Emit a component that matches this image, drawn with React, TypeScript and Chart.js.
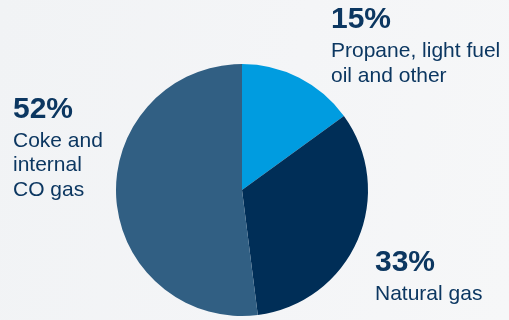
import React, { useEffect, useRef } from "react";
import { Chart, registerables } from "chart.js";

Chart.register(...registerables);

const categories = ["Propane, light fuel oil and other", "Natural gas", "Coke and internal CO gas"];
const values = [15, 33, 52];
const sliceColors = ["#009CE0", "#002E57", "#315F83"];

const TEXT = "#0C3761";
const FONT = '"Liberation Sans", Arial, Helvetica, sans-serif';

type Line = { text: string; x: number; base: number; size: number; bold?: boolean };

const pct = (i: number) => `${values[i]}%`;

const BIG = 30;
const SMALL = 21;

const lines: Line[] = [
  { text: pct(0), x: 331, base: 28, size: BIG, bold: true },
  { text: "Propane, light fuel", x: 331, base: 56.5, size: SMALL },
  { text: "oil and other", x: 331, base: 81.5, size: SMALL },
  { text: pct(2), x: 13, base: 118, size: BIG, bold: true },
  { text: "Coke and", x: 13, base: 146.5, size: SMALL },
  { text: "internal", x: 13, base: 171, size: SMALL },
  { text: "CO gas", x: 13, base: 195.5, size: SMALL },
  { text: pct(1), x: 375, base: 271, size: BIG, bold: true },
  { text: "Natural gas", x: 375, base: 299.5, size: SMALL },
];

export default function App() {
  const ref = useRef<HTMLCanvasElement | null>(null);

  useEffect(() => {
    if (!ref.current) return;
    const chart = new Chart(ref.current, {
      type: "pie",
      data: {
        labels: categories,
        datasets: [
          {
            data: values,
            backgroundColor: sliceColors,
            borderWidth: 0,
          },
        ],
      },
      options: {
        responsive: false,
        animation: false,
        layout: { padding: { top: 64, bottom: 4, left: 116, right: 141 } },
        plugins: {
          legend: { display: false },
          tooltip: { enabled: false },
        },
      },
    });
    return () => chart.destroy();
  }, []);

  return (
    <div
      style={{
        position: "fixed",
        left: 0,
        top: 0,
        width: 509,
        height: 320,
        overflow: "hidden",
        background: "linear-gradient(100deg, #F1F3F5 0%, #F4F5F7 55%, #F6F7F8 100%)",
        fontFamily: FONT,
      }}
    >
      <canvas ref={ref} width={509} height={320} style={{ position: "absolute", left: 0, top: 0, width: 509, height: 320 }} />
      {lines.map((l, i) => (
        <div
          key={i}
          style={{
            position: "absolute",
            left: l.x,
            top: l.base - 0.8465 * l.size,
            fontSize: l.size,
            lineHeight: `${l.size}px`,
            fontWeight: l.bold ? 700 : 400,
            color: TEXT,
            whiteSpace: "nowrap",
          }}
        >
          {l.text}
        </div>
      ))}
    </div>
  );
}
